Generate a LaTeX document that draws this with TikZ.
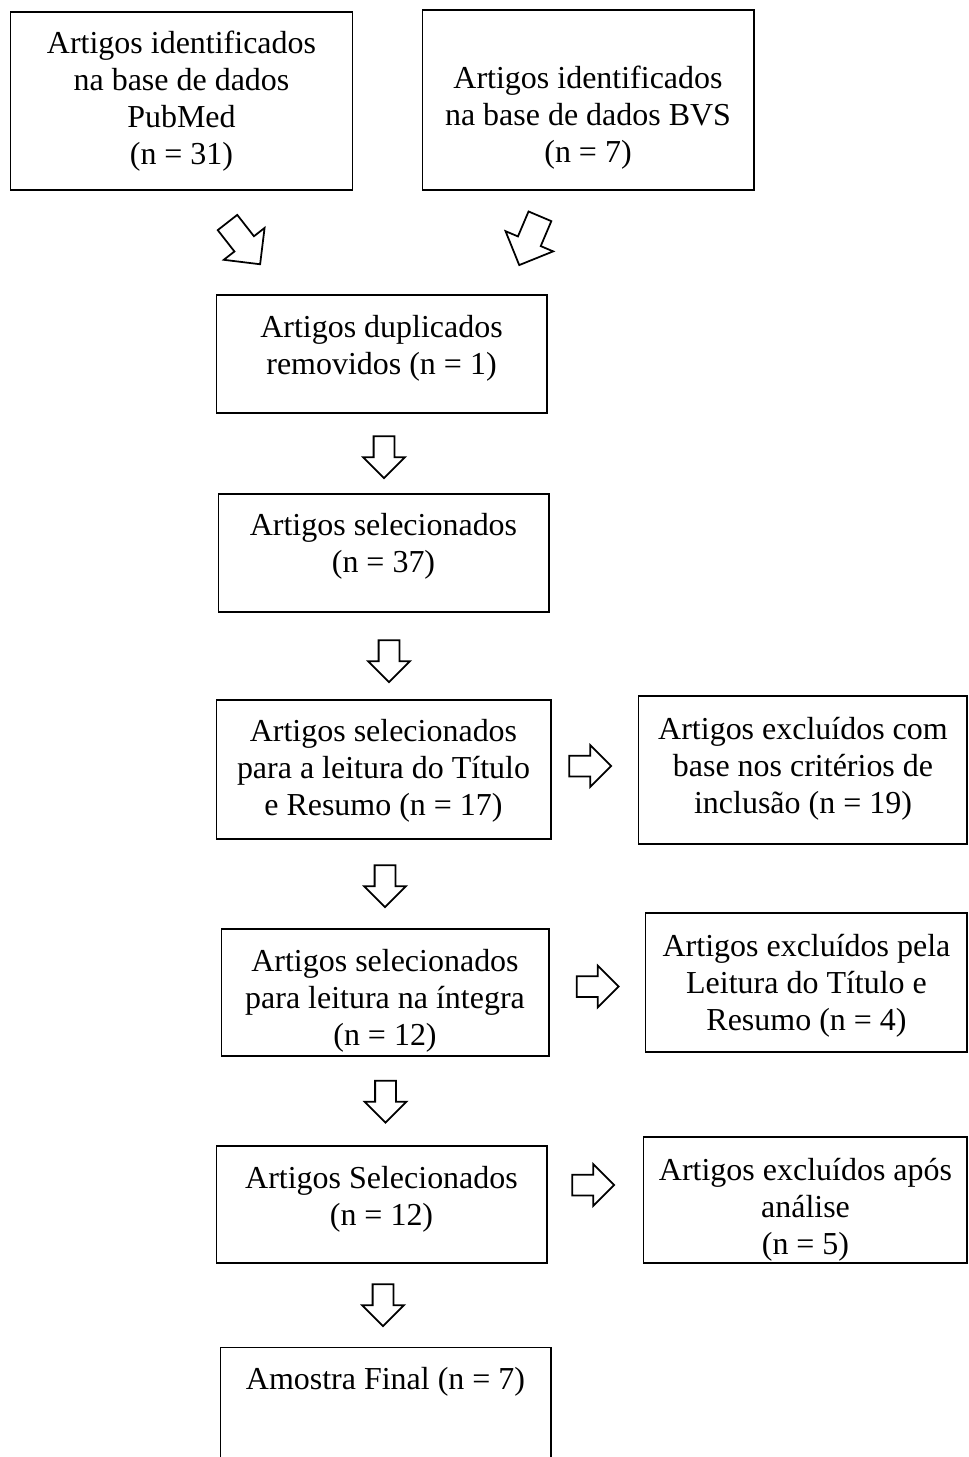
\documentclass[tikz,border=0pt]{standalone}
\usepackage{fontspec}
\setmainfont{Liberation Serif}
\usetikzlibrary{shapes.arrows}

\begin{document}
\begin{tikzpicture}[x=.02cm,y=-.02cm,
  box/.style={draw,line width=.6pt,inner sep=0pt},
  txt/.style={align=center,inner sep=0pt,yshift=-.08cm,font=\fontsize{18.2pt}{21.1pt}\selectfont},
  hollow/.style={single arrow,draw,line width=1pt,inner xsep=0pt,inner ysep=.19cm,minimum height=.84cm,single arrow head extend=.21cm},
  slant/.style={single arrow,draw,line width=1pt,inner xsep=0pt,inner ysep=.23cm,minimum height=1.06cm,single arrow head extend=.27cm}]
\useasboundingbox(0,0)rectangle(968,1457);
% left column
\node[box,minimum width=6.86cm,minimum height=3.56cm](pm)at(181.5,101){};\node[txt](pmt)at(181.5,97.5){Artigos identificados\\na base de dados\\PubMed\\(n = 31)};
\node[box,minimum width=6.64cm,minimum height=3.6cm](bvs)at(588,100){};\node[txt](bvst)at(588,114){Artigos identificados\\na base de dados BVS\\(n = 7)};
\node[box,minimum width=6.62cm,minimum height=2.36cm](dup)at(381.5,354){};\node[txt](dupt)at(381.5,344){Artigos duplicados\\removidos (n = 1)};
\node[box,minimum width=6.62cm,minimum height=2.36cm](sel)at(383.5,553){};\node[txt](selt)at(383.5,542.5){Artigos selecionados\\(n = 37)};
\node[box,minimum width=6.7cm,minimum height=2.78cm](tr)at(383.5,769.5){};\node[txt](trt)at(383.5,767){Artigos selecionados\\para a leitura do Título\\e Resumo (n = 17)};
\node[box,minimum width=6.56cm,minimum height=2.54cm](li)at(385,992.5){};\node[txt](lit)at(385,996.5){Artigos selecionados\\para leitura na íntegra\\(n = 12)};
\node[box,minimum width=6.62cm,minimum height=2.34cm](as)at(381.5,1204.5){};\node[txt](ast)at(381.5,1195){Artigos Selecionados\\(n = 12)};
\node[box,minimum width=6.62cm,minimum height=3.06cm](fin)at(385.5,1423.5){};\node[txt](fint)at(385.5,1378){Amostra Final (n = 7)};
% right column
\node[box,minimum width=6.58cm,minimum height=2.96cm](ex1)at(802.5,770){};\node[txt](ex1t)at(803,765){Artigos excluídos com\\base nos critérios de\\inclusão (n = 19)};
\node[box,minimum width=6.44cm,minimum height=2.78cm](ex2)at(806,982.5){};\node[txt](ex2t)at(806.5,982){Artigos excluídos pela\\Leitura do Título e\\Resumo (n = 4)};
\node[box,minimum width=6.48cm,minimum height=2.52cm](ex3)at(805,1200){};\node[txt](ex3t)at(805.5,1205.5){Artigos excluídos após\\análise\\(n = 5)};
% arrows
\node[slant,rotate=-52](a1)at(240,238.5){};\node[slant,rotate=-113](a2)at(532,235){};
\node[hollow,rotate=-90](a3)at(384,452){};\node[hollow,rotate=-90](a4)at(389,656){};\node[hollow,rotate=-90](a5)at(385,881){};
\node[hollow,rotate=-90](a6)at(385.5,1096.5){};\node[hollow,rotate=-90](a7)at(383,1300){};
\node[hollow](a8)at(585,766){};\node[hollow](a9)at(592.5,986.5){};\node[hollow](a10)at(588,1185){};
\end{tikzpicture}
\end{document}
